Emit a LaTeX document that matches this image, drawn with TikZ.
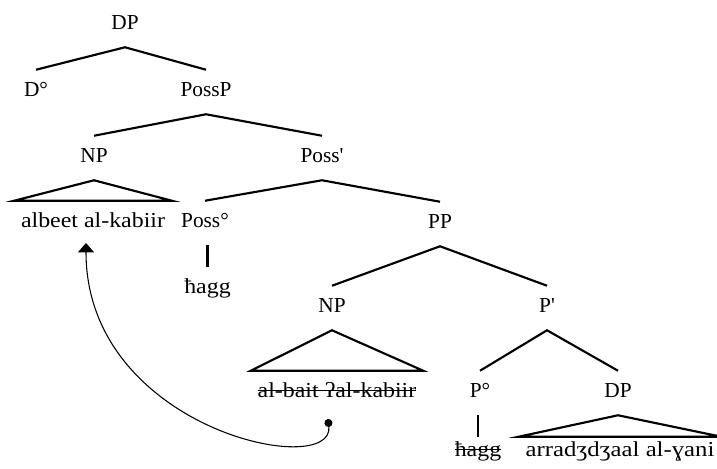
\documentclass[tikz,border=0pt]{standalone}
\usepackage{fontspec}
\setmainfont{Liberation Serif}
\newfontfamily\wide{Liberation Serif}[FakeStretch=1.12]
\newfontfamily\wider{Liberation Serif}[FakeStretch=1.16]
\usetikzlibrary{arrows.meta}
\newlength\strkw
\newcommand\strk[1]{\settowidth\strkw{#1}\rlap{#1}\rule[0.28em]{\strkw}{0.05em}}
\begin{document}
\begin{tikzpicture}[x=0.75pt,y=-0.75pt,
  lab/.style={inner xsep=5pt, inner ysep=0pt, anchor=base,
    font=\fontsize{16}{19}\selectfont, text height=19.5pt, text depth=13.5pt},
  low/.style={lab, text height=14.25pt},
  br/.style={line width=1.6pt, line join=miter},
  mv/.style={line width=0.8pt, {Circle[length=6pt]}-{Triangle[length=7pt,width=12pt]}}
]
\useasboundingbox (0,0) rectangle (717,468);

\node[lab] (dp) at (125,29) {DP};
\node[lab] (d0) at (36,96) {D°};
\node[lab] (possp) at (206,96) {PossP};
\node[lab] (np1) at (94,162) {NP};
\node[lab] (possbar) at (322,162) {Poss\textquotesingle};
\node[lab] (albeet) at (93,227) {\wide albeet al-kabiir};
\node[lab] (poss0) at (205,227) {Poss°};
\node[lab] (pp) at (440,228) {PP};
\node[lab] (hagg1) at (207.5,293) {\wide ħagg};
\node[lab] (np2) at (332,312) {NP};
\node[lab] (pbar) at (547,312) {P\textquotesingle};
\node[lab] (albait) at (337,397) {\wide\strk{al-bait ʔal-kabiir}};
\node[lab] (p0) at (480,397) {P°};
\node[lab] (dp2) at (618,397) {DP};
\node[low] (hagg2) at (478,456) {\wide\strk{ħagg}};
\node[low] (arr) at (620,456) {\wider arradʒdʒaal al-ɣani};

\draw[br] (d0.north) -- (dp.south) -- (possp.north);
\draw[br] (np1.north) -- (possp.south) -- (possbar.north);
\draw[br] (np1.south) -- (albeet.north west) -- (albeet.north east) -- cycle;
\draw[br] (poss0.north) -- (possbar.south) -- (pp.north);
\draw[br] (hagg1.north |- poss0.south) -- (hagg1.north);
\draw[br] (np2.north) -- (pp.south) -- (pbar.north);
\draw[br] (np2.south) -- (albait.north west) -- (albait.north east) -- cycle;
\draw[br] (p0.north) -- (pbar.south) -- (dp2.north);
\draw[br] (hagg2.north |- p0.south) -- (hagg2.north);
\draw[br] (dp2.south) -- (arr.north west) -- (arr.north east) -- cycle;

\coordinate (src) at (328,419);
\coordinate (tgt) at (86,243);
\draw[mv] (src) .. controls (335,480) and (86,430) .. (tgt);
\end{tikzpicture}
\end{document}
